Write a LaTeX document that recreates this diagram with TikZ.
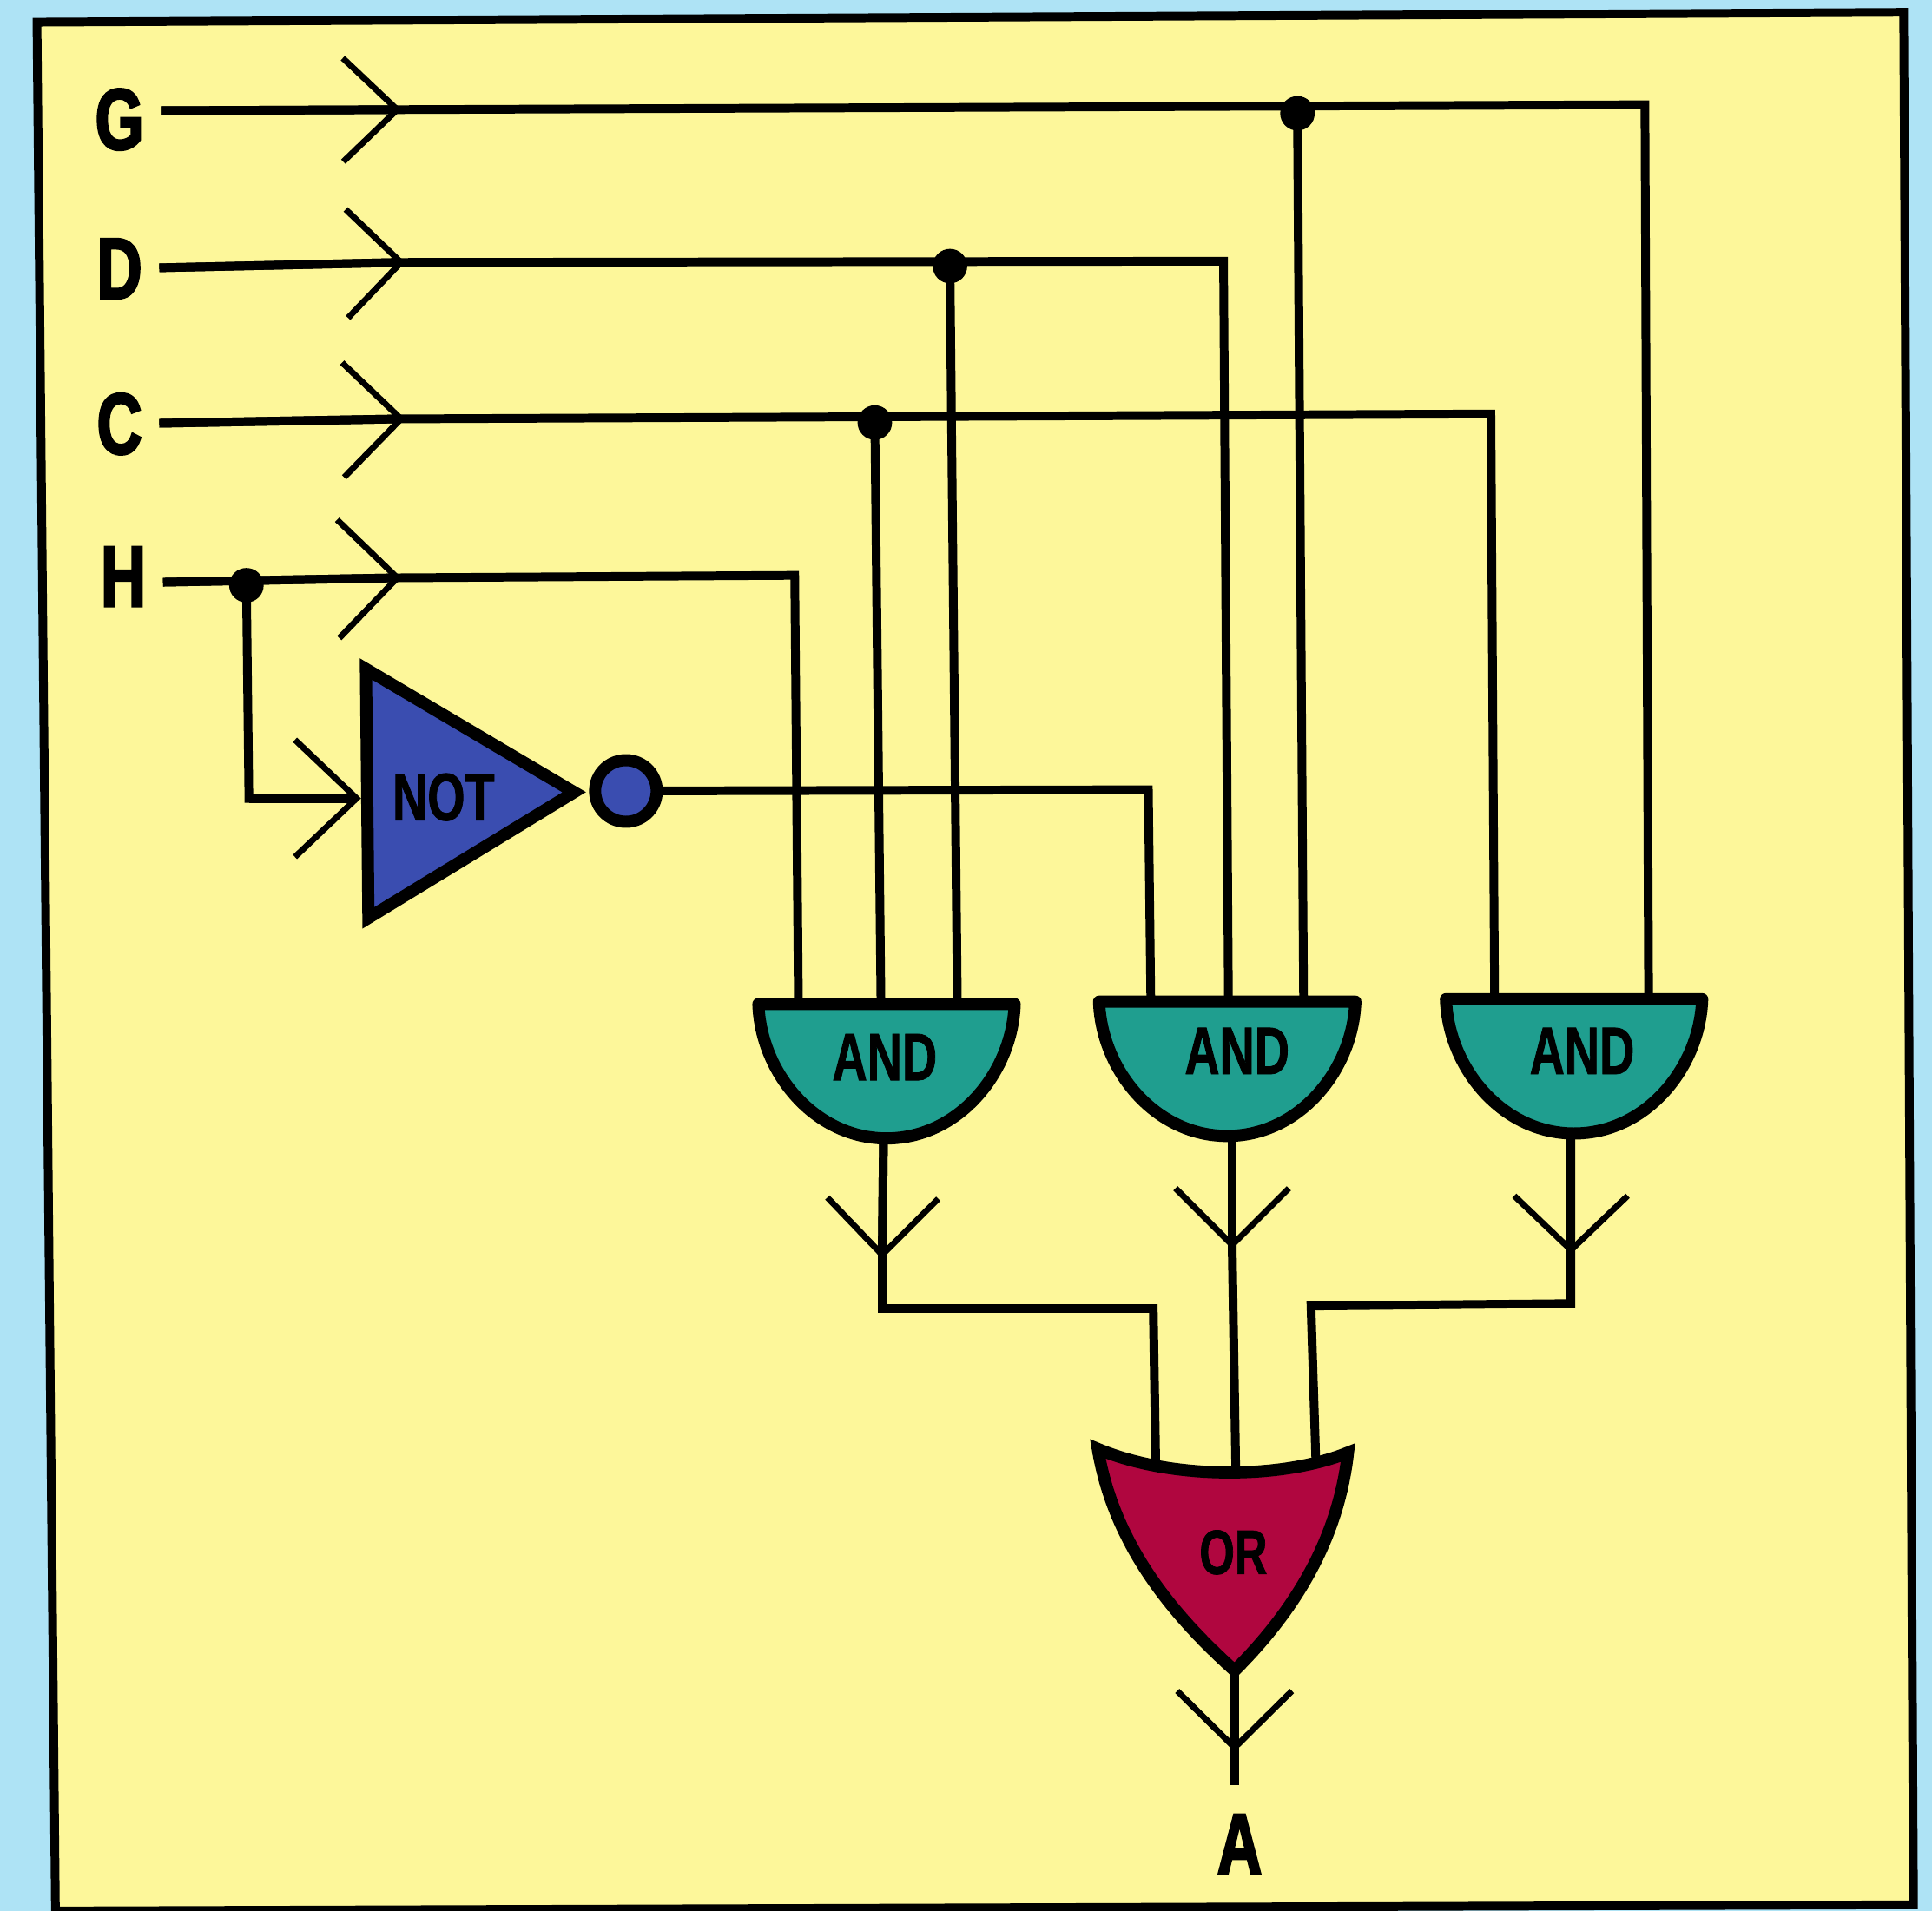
\documentclass[tikz,border=0pt]{standalone}
\usepackage{fontspec}
\setmainfont{Liberation Sans}[FakeStretch=0.72,BoldFeatures={FakeBold=1}]
\newfontfamily\heavyfont{Liberation Sans}[FakeStretch=0.72,BoldFeatures={FakeBold=2.5}]
\usepackage {tikz}
\usetikzlibrary {positioning,arrows.meta}
\definecolor{skyblue}{HTML}{AEE3F5}
\definecolor{paper}{HTML}{FDF79A}
\definecolor{andteal}{HTML}{1F9E8F}
\definecolor{notblue}{HTML}{3A4DB0}
\definecolor{orred}{HTML}{B0063F}

\begin{document}
\begin{tikzpicture}[x=0.01cm,y=-0.01cm,on grid,
wire/.style ={line width=2pt,line join=miter},
chev/.style n args={2}{wire,shorten >=-.04cm,-{Straight Barb[length=#1,width=#2,line width=1.4pt]}},
gateline/.style ={line width=2.8pt,line join=miter},
inlabel/.style ={inner sep=0,outer sep=.14cm,font=\fontsize{20}{20}\heavyfont\bfseries},
gatetext/.style ={inner sep=0,font=\fontsize{15.5}{16}\selectfont\bfseries},
dot/.style ={circle,fill=black,inner sep=0,minimum size=.28cm}]
\useasboundingbox (0,0) rectangle (1568,1551);
\fill[skyblue] (0,0) rectangle (1568,1551);
\draw[fill=paper,draw=black,line width=2pt] (30,18) -- (1545,10) -- (1553,1546) -- (45,1551) -- cycle;

\node[inlabel] (G) at (97,97) {G};
\node[inlabel] (D) [below = 1.21cm of G] {D};
\node[inlabel] (C) [below = 1.26cm of D] {C};
\node[inlabel] (H) at (100,468) {H};
\node[inlabel,outer sep=.24cm] (A) at (1006,1497) {A};

\coordinate (tipG) at (322,89);
\coordinate (tipD) at (325,213);
\coordinate (tipC) at (325,340);
\coordinate (tipH) at (322,469);
\coordinate (tipN) at (289,648);
\coordinate (tipA1) at (716,1018);
\coordinate (tipA2) at (1000,1010);
\coordinate (tipA3) at (1275,1014);
\coordinate (tipO) at (1002,1418);

\node[dot] (dotG) at (1053,92) {};
\node[dot] (dotD) at (771,216) {};
\node[dot] (dotC) at (710,343) {};
\node[dot] (dotH) at (200,475) {};

\coordinate (cornG) at (1335,85);
\coordinate (cornD) at (993,212);
\coordinate (cornC) at (1210,336);
\coordinate (cornH) at (645,467);
\coordinate (cornN) at (932,641);
\coordinate (cornT) at (202,648);

\coordinate (pin1a) at (648,815);
\coordinate (pin1b) at (715,815);
\coordinate (pin1c) at (777,815);
\coordinate (pin2a) at (934,813);
\coordinate (pin2b) at (997,813);
\coordinate (pin2c) at (1058,813);
\coordinate (pin3a) at (1213,811);
\coordinate (pin3b) at (1338,811);

\coordinate (orA) at (938,1188);
\coordinate (orB) at (1003,1196);
\coordinate (orC) at (1068,1188);
\coordinate (cornA1a) at (716,1062);
\coordinate (cornA1b) at (936,1062);
\coordinate (cornA3a) at (1275,1058);
\coordinate (cornA3b) at (1064,1060);

\draw[wire] (G.12) -- (tipG) -- (cornG) -- (pin3b);
\draw[wire] (D) -- (tipD) -- (cornD) -- (pin2b);
\draw[wire] (C) -- (tipC) -- (cornC) -- (pin3a);
\draw[wire] (H.-8) -- (tipH) -- (cornH) -- (pin1a);
\draw[wire] (dotG.center) -- (pin2c);
\draw[wire] (dotD.center) -- (pin1c);
\draw[wire] (dotC.center) -- (pin1b);
\draw[wire] (dotH.center) -- (cornT) -- (tipN);
\draw[chev={.44cm}{.84cm}] (G.12) -- (tipG);
\draw[chev={.44cm}{.88cm}] (D) -- (tipD);
\draw[chev={.47cm}{.93cm}] (C) -- (tipC);
\draw[chev={.48cm}{.96cm}] (H.-8) -- (tipH);
\draw[chev={.50cm}{.95cm}] (cornT) -- (tipN);

\foreach \gate/\x/\y/\tx/\ty/\ox in {and1/719.5/815/718/858/717,and2/996/813/1004/853/1000,and3/1277.5/811/1284/853/1275} {
  \draw[gateline,line join=round,fill=andteal] (\x-104,\y) -- (\x+104,\y)
    .. controls (\x+102,\y+56) and (\x+58,\y+109) .. (\x,\y+109)
    .. controls (\x-58,\y+109) and (\x-102,\y+56) .. (\x-104,\y) -- cycle;
  \coordinate (\gate-out) at (\ox,\y+113);
  \node[gatetext] (\gate) at (\tx,\ty) {AND};
}

\draw[gateline,fill=notblue] (297,543) -- (466,643) -- (299,745) -- cycle;
\node[gatetext] (notg) at (360,647) {NOT};
\node[circle,gateline,draw,fill=notblue,minimum size=.5cm,inner sep=0,outer sep=0] (bub) at (508,642) {};
\draw[wire] (bub) -- (cornN) -- (pin2a);

\draw[wire] (and1-out) -- (tipA1) -- (cornA1a) -- (cornA1b) -- (orA);
\draw[wire] (and2-out) -- (tipA2) -- (orB);
\draw[wire] (and3-out) -- (tipA3) -- (cornA3a) -- (cornA3b) -- (orC);
\draw[chev={.46cm}{.90cm}] (and1-out) -- (tipA1);
\draw[chev={.46cm}{.92cm}] (and2-out) -- (tipA2);
\draw[chev={.44cm}{.92cm}] (and3-out) -- (tipA3);

\draw[gateline,fill=orred] (891,1176) .. controls (950,1201) and (1040,1201) .. (1094,1179)
  .. controls (1085,1260) and (1040,1318) .. (1002,1356)
  .. controls (960,1318) and (905,1260) .. (891,1176) -- cycle;
\node[gatetext,font=\fontsize{14.5}{15}\selectfont\bfseries] (org) at (1001,1260) {OR};
\coordinate (orout) at (1002,1356);
\draw[wire] (orout) -- (tipO) -- (tipO |- A.north);
\draw[chev={.46cm}{.93cm}] (orout) -- (tipO);
\end{tikzpicture}
\end{document}
